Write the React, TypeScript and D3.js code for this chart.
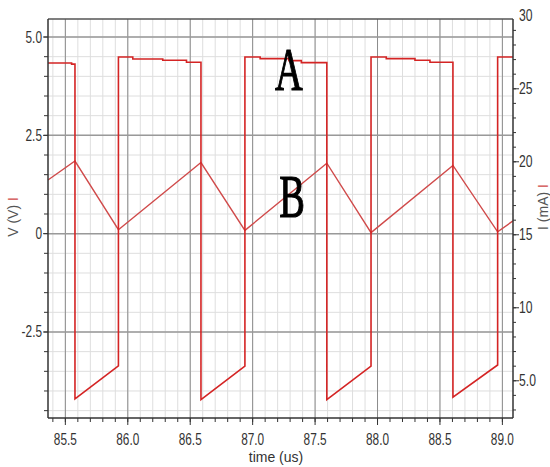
import React from "react";
import * as d3 from "d3";

// ---- data ----
const timeTicks = [85.5, 86.0, 86.5, 87.0, 87.5, 88.0, 88.5, 89.0];
const timeTickLabels = ["85.5", "86.0", "86.5", "87.0", "87.5", "88.0", "88.5", "89.0"];
const voltTicks = [5.0, 2.5, 0, -2.5];
const voltTickLabels = ["5.0", "2.5", "0", "-2.5"];
const currentTicks = [30, 25, 20, 15, 10, 5];
const currentTickLabels = ["30", "25", "20", "15", "10", "5.0"];

// Signal A: voltage (V) breakpoints [time us, volts]
const voltageA: [number, number][] = [
  [85.361, 4.34], [85.55, 4.34], [85.55, 4.31], [85.577, 4.31],
  [85.577, -4.2], [85.925, -3.36],
  [85.925, 4.49], [86.04, 4.49], [86.04, 4.44], [86.28, 4.44], [86.28, 4.41],
  [86.47, 4.41], [86.47, 4.36], [86.586, 4.36],
  [86.586, -4.22], [86.938, -3.37],
  [86.938, 4.49], [87.06, 4.49], [87.06, 4.45], [87.29, 4.45], [87.29, 4.4],
  [87.39, 4.4], [87.39, 4.35], [87.594, 4.35],
  [87.594, -4.22], [87.948, -3.37],
  [87.948, 4.49], [88.07, 4.49], [88.07, 4.45], [88.3, 4.45], [88.3, 4.41],
  [88.42, 4.41], [88.42, 4.36], [88.604, 4.36],
  [88.604, -4.16], [88.962, -3.34],
  [88.962, 4.49], [89.085, 4.49],
];

// Signal B: current (mA) breakpoints [time us, mA]
const currentB: [number, number][] = [
  [85.361, 18.75], [85.577, 20.05], [85.925, 15.35], [86.586, 19.95],
  [86.938, 15.3], [87.594, 19.9], [87.948, 15.15], [88.604, 19.75],
  [88.962, 15.2], [89.085, 15.95],
];

const W = 550;
const H = 467;
const M = { left: 48, top: 19, right: 37, bottom: 49 };

export default function App() {
  const x0 = M.left;
  const x1 = W - M.right;
  const y0 = M.top;
  const y1 = H - M.bottom;

  const x = d3.scaleLinear().domain([85.361, 89.085]).range([x0, x1]);
  const yV = d3.scaleLinear().domain([-4.687, 5.458]).range([y1, y0]);
  const yI = d3.scaleLinear().domain([2.45, 29.78]).range([y1, y0]);

  const minorT = d3.range(85.4, 89.09, 0.1).map((v) => +v.toFixed(2));
  const minorV = d3.range(-4.5, 5.46, 0.5);
  const minorI = d3.range(3, 30, 1);

  const lineA = d3.line<[number, number]>().x((d) => x(d[0])).y((d) => yV(d[1]));
  const lineB = d3.line<[number, number]>().x((d) => x(d[0])).y((d) => yI(d[1]));

  const tickFont = "'Liberation Sans', Arial, sans-serif";
  const serif = "'Liberation Serif', 'DejaVu Serif', serif";

  return (
    <svg width={W} height={H} style={{ position: "absolute", left: 0, top: 0, background: "#fff" }}>
      <rect x={0} y={0} width={W} height={H} fill="#fff" />
      {/* minor grid */}
      {minorT.map((t, i) => (
        <line key={"mt" + i} x1={x(t)} x2={x(t)} y1={y0} y2={y1} stroke="#dedede" strokeWidth={1} />
      ))}
      {minorV.map((v, i) => (
        <line key={"mv" + i} x1={x0} x2={x1} y1={yV(v)} y2={yV(v)} stroke="#dedede" strokeWidth={1} />
      ))}
      {/* major grid */}
      {timeTicks.map((t, i) => (
        <line key={"Mt" + i} x1={x(t)} x2={x(t)} y1={y0} y2={y1} stroke="#8c8c8c" strokeWidth={1} />
      ))}
      {voltTicks.map((v, i) => (
        <line key={"Mv" + i} x1={x0} x2={x1} y1={yV(v)} y2={yV(v)} stroke="#999" strokeWidth={1.5} />
      ))}

      {/* signals */}
      <path d={lineB(currentB) || ""} fill="none" stroke="#d04a4a" strokeWidth={1.4} />
      <path d={lineA(voltageA) || ""} fill="none" stroke="#d42424" strokeWidth={1.6} />

      {/* frame */}
      <line x1={x0} x2={x1} y1={y0} y2={y0} stroke="#555" strokeWidth={1.5} />
      <line x1={x0} x2={x0} y1={y0} y2={y1} stroke="#333" strokeWidth={1.5} />
      <line x1={x1} x2={x1} y1={y0} y2={y1} stroke="#333" strokeWidth={1.5} />
      <line x1={x0} x2={x1} y1={y1} y2={y1} stroke="#333" strokeWidth={1.5} />

      {/* bottom ticks */}
      {minorT.map((t, i) => (
        <line key={"bt" + i} x1={x(t)} x2={x(t)} y1={y1} y2={y1 + 4} stroke="#333" strokeWidth={1} />
      ))}
      {timeTicks.map((t, i) => (
        <g key={"bl" + i}>
          <line x1={x(t)} x2={x(t)} y1={y1} y2={y1 + 7} stroke="#333" strokeWidth={1} />
          <text
            transform={`translate(${x(t)},445) scale(0.74,1)`}
            textAnchor="middle"
            fontFamily={tickFont}
            fontSize={16}
            fill="#333"
          >
            {timeTickLabels[i]}
          </text>
        </g>
      ))}

      {/* left ticks */}
      {minorV.map((v, i) => (
        <line key={"lt" + i} x1={x0 - 4} x2={x0} y1={yV(v)} y2={yV(v)} stroke="#333" strokeWidth={1} />
      ))}
      {voltTicks.map((v, i) => (
        <g key={"ll" + i}>
          <line x1={x0 - 5} x2={x0} y1={yV(v)} y2={yV(v)} stroke="#333" strokeWidth={1} />
          <text
            transform={`translate(42,${yV(v) + 5.5}) scale(0.74,1)`}
            textAnchor="end"
            fontFamily={tickFont}
            fontSize={16}
            fill="#333"
          >
            {voltTickLabels[i]}
          </text>
        </g>
      ))}

      {/* right ticks */}
      {minorI.map((v, i) => (
        <line key={"rt" + i} x1={x1} x2={x1 + 3} y1={yI(v)} y2={yI(v)} stroke="#333" strokeWidth={1} />
      ))}
      {currentTicks.map((v, i) => (
        <g key={"rl" + i}>
          {yI(v) >= y0 && (
            <line x1={x1} x2={x1 + 6} y1={yI(v)} y2={yI(v)} stroke="#333" strokeWidth={1} />
          )}
          <text
            transform={`translate(519,${yI(v) + 5.5}) scale(0.76,1)`}
            textAnchor="start"
            fontFamily={tickFont}
            fontSize={16}
            fill="#333"
          >
            {currentTickLabels[i]}
          </text>
        </g>
      ))}

      {/* axis titles */}
      <text x={276} y={462} textAnchor="middle" fontFamily={tickFont} fontSize={14} fill="#333">
        time (us)
      </text>
      <text
        transform="translate(18,217) rotate(-90)"
        textAnchor="middle"
        fontFamily={tickFont}
        fontSize={14}
        fill="#555"
      >
        V (V) <tspan fill="#d04a4a">I</tspan>
      </text>
      <text
        transform="translate(548,207) rotate(-90)"
        textAnchor="middle"
        fontFamily={tickFont}
        fontSize={14}
        fill="#555"
      >
        I (mA) <tspan fill="#d04a4a">I</tspan>
      </text>

      {/* annotations */}
      <text
        transform="translate(289,90) scale(0.62,1)"
        textAnchor="middle"
        fontFamily={serif}
        fontSize={62}
        fill="#000"
        stroke="#000"
        strokeWidth={1.2}
      >
        A
      </text>
      <text
        transform="translate(292,217) scale(0.62,1)"
        textAnchor="middle"
        fontFamily={serif}
        fontSize={62}
        fill="#000"
        stroke="#000"
        strokeWidth={1.2}
      >
        B
      </text>
    </svg>
  );
}
